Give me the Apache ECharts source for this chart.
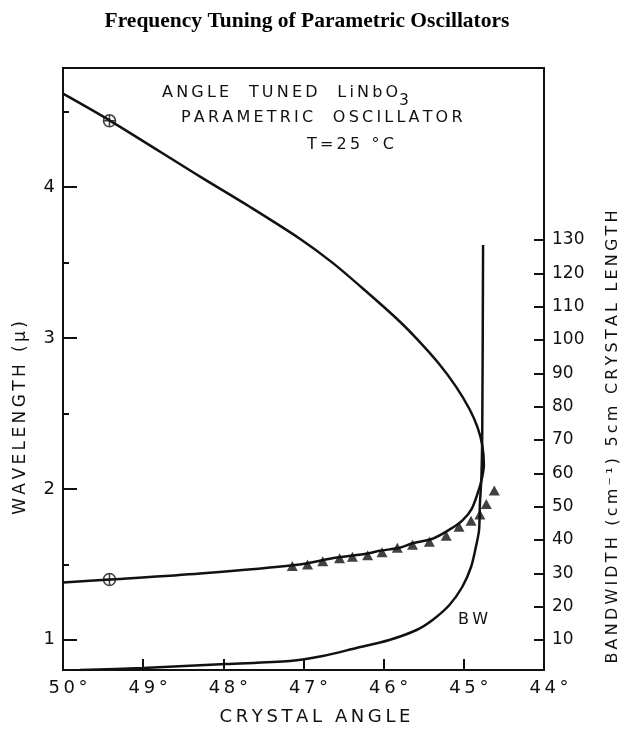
<!DOCTYPE html>
<html>
<head>
<meta charset="utf-8">
<script src="https://cdn.jsdelivr.net/npm/echarts@6.0.0/dist/echarts.min.js"></script>
<style>
  html, body { margin: 0; padding: 0; background: #fff; }
  #chart { width: 626px; height: 731px; }
</style>
</head>
<body>
<div id="chart"></div>
<script>
// 调谐曲线：沿曲线顺序（上支 -> 顶点 -> 下支），角度(°) 与 波长(μ)
const tuneAngle = [50.00, 49.41, 48.29, 47.67, 47.05, 46.64, 46.22, 45.80, 45.56, 45.31, 45.10, 44.93, 44.83, 44.77, 44.75,
                   44.77, 44.81, 44.90, 45.02, 45.18, 45.39, 45.64, 45.80, 46.05, 46.22, 46.64, 47.05, 48.29, 49.41, 50.00];
const tuneWave  = [4.62, 4.44, 4.07, 3.87, 3.66, 3.50, 3.31, 3.11, 2.98, 2.83, 2.68, 2.53, 2.41, 2.29, 2.16,
                   2.08, 2.00, 1.87, 1.79, 1.73, 1.67, 1.64, 1.61, 1.59, 1.57, 1.54, 1.50, 1.44, 1.40, 1.38];

// 实验点（三角形）
const triAngle = [47.14, 46.95, 46.76, 46.55, 46.39, 46.20, 46.02, 45.83, 45.64, 45.43, 45.22, 45.06, 44.91, 44.80, 44.72, 44.62];
const triWave  = [1.49, 1.50, 1.52, 1.54, 1.55, 1.56, 1.58, 1.61, 1.63, 1.65, 1.69, 1.75, 1.79, 1.83, 1.90, 1.99];

// 圆圈十字标记
const circAngle = [49.42, 49.42];
const circWave  = [4.44, 1.40];

// 带宽曲线 BW (cm^-1)，右轴
const bwAngle = [49.79, 49.00, 47.97, 47.17, 46.76, 46.34, 45.93, 45.59, 45.39, 45.18, 45.02, 44.91, 44.85, 44.81, 44.80, 44.78, 44.77, 44.76];
const bwValue = [1.0, 1.6, 2.8, 3.7, 5.2, 7.6, 10.0, 13.0, 16.0, 20.5, 25.9, 31.9, 37.9, 43.0, 50.5, 59.5, 73.0, 128.5];

// 刻度
const waveTicks = [1, 2, 3, 4];
const waveMinorTicks = [1.5, 2.5, 3.5, 4.5];
const bwTicks = [10, 20, 30, 40, 50, 60, 70, 80, 90, 100, 110, 120, 130];

const ink = '#111';
const letter = 'DejaVu Sans';
// 手写体字母间距较宽，用细空格拉开
const spread = s => String(s).split('').join('\u2009');
const zip = (a, b) => a.map((v, i) => [v, b[i]]);

const chart = echarts.init(document.getElementById('chart'));

const option = {
  animation: false,
  grid: { left: 63, right: 82, top: 68, bottom: 61, show: true, borderColor: ink, borderWidth: 2 },
  xAxis: {
    type: 'value', min: 44, max: 50, interval: 1, inverse: true,
    axisLine: { lineStyle: { color: ink, width: 2 } },
    axisTick: { inside: true, length: 11, lineStyle: { color: ink, width: 2 } },
    axisLabel: { formatter: v => spread(v + '°'), color: ink, fontFamily: letter, fontSize: 18, margin: 9, padding: [0, 0, 0, 10] },
    splitLine: { show: false }
  },
  yAxis: [
    {
      type: 'value', position: 'left', min: 0.8, max: 4.79,
      axisLine: { show: true, lineStyle: { color: ink, width: 2 } },
      axisTick: { inside: true, length: 14, customValues: waveTicks, lineStyle: { color: ink, width: 2 } },
      axisLabel: { customValues: waveTicks, color: ink, fontFamily: letter, fontSize: 18, margin: 8 },
      splitLine: { show: false }
    },
    {
      type: 'value', position: 'left', min: 0.8, max: 4.79,
      axisLine: { show: false },
      axisTick: { inside: true, length: 6, customValues: waveMinorTicks, lineStyle: { color: ink, width: 2 } },
      axisLabel: { show: false },
      splitLine: { show: false }
    },
    {
      type: 'value', position: 'right', min: 1, max: 181.6,
      axisLine: { show: true, lineStyle: { color: ink, width: 2 } },
      axisTick: { inside: true, length: 10, customValues: bwTicks, lineStyle: { color: ink, width: 2 } },
      axisLabel: { customValues: bwTicks, color: ink, fontFamily: letter, fontSize: 17, margin: 8 },
      splitLine: { show: false }
    }
  ],
  series: [
    {
      name: 'tuning', type: 'line', xAxisIndex: 0, yAxisIndex: 0,
      data: zip(tuneAngle, tuneWave), smooth: 0.3, showSymbol: false, symbol: 'none',
      lineStyle: { color: ink, width: 2.5 }
    },
    {
      name: 'BW', type: 'line', xAxisIndex: 0, yAxisIndex: 2,
      data: zip(bwAngle, bwValue), smooth: 0.3, showSymbol: false, symbol: 'none',
      lineStyle: { color: ink, width: 2.5 }
    },
    {
      name: 'measured', type: 'scatter', xAxisIndex: 0, yAxisIndex: 0,
      data: zip(triAngle, triWave), symbol: 'triangle', symbolSize: [11, 10],
      itemStyle: { color: ink }
    },
    {
      name: 'marks', type: 'scatter', xAxisIndex: 0, yAxisIndex: 0,
      data: zip(circAngle, circWave),
      symbol: 'path://M10,5A5,5,0,1,1,0,5A5,5,0,1,1,10,5ZM5,0L5,10M0,5L10,5', symbolSize: 12,
      itemStyle: { color: 'rgba(0,0,0,0)', borderColor: ink, borderWidth: 1.6 }
    }
  ],
  graphic: [
    {
      type: 'text', x: 307, y: 21,
      style: { text: 'Frequency Tuning of Parametric Oscillators', fill: '#000', font: 'bold 21.5px "Liberation Serif"', textAlign: 'center', textVerticalAlign: 'middle' }
    },
    {
      type: 'text', x: 162, y: 93,
      style: {
        text: '{a|' + spread('ANGLE  TUNED  LiNbO') + '}{s|3}', textAlign: 'left', textVerticalAlign: 'middle',
        rich: {
          a: { fontFamily: letter, fontSize: 16, fill: ink },
          s: { fontFamily: letter, fontSize: 15, fill: ink, padding: [16, 0, 0, 1] }
        }
      }
    },
    {
      type: 'text', x: 181, y: 118,
      style: { text: spread('PARAMETRIC  OSCILLATOR'), fill: ink, font: '16px "DejaVu Sans"', textAlign: 'left', textVerticalAlign: 'middle' }
    },
    {
      type: 'text', x: 307, y: 145,
      style: { text: spread('T=25 °C'), fill: ink, font: '16px "DejaVu Sans"', textAlign: 'left', textVerticalAlign: 'middle' }
    },
    {
      type: 'text', x: 473, y: 620,
      style: { text: spread('BW'), fill: ink, font: '16px "DejaVu Sans"', textAlign: 'center', textVerticalAlign: 'middle' }
    },
    {
      type: 'text', x: 315, y: 717,
      style: { text: spread('CRYSTAL ANGLE'), fill: ink, font: '18px "DejaVu Sans"', textAlign: 'center', textVerticalAlign: 'middle' }
    },
    {
      type: 'text', x: 21, y: 418, rotation: Math.PI / 2,
      style: { text: spread('WAVELENGTH (μ)'), fill: ink, font: '17px "DejaVu Sans"', textAlign: 'center', textVerticalAlign: 'middle' }
    },
    {
      type: 'text', x: 613, y: 437, rotation: Math.PI / 2,
      style: { text: spread('BANDWIDTH (cm⁻¹) 5cm CRYSTAL LENGTH'), fill: ink, font: '16px "DejaVu Sans"', textAlign: 'center', textVerticalAlign: 'middle' }
    }
  ]
};

chart.setOption(option);
window.addEventListener('resize', () => chart.resize());
</script>
</body>
</html>
